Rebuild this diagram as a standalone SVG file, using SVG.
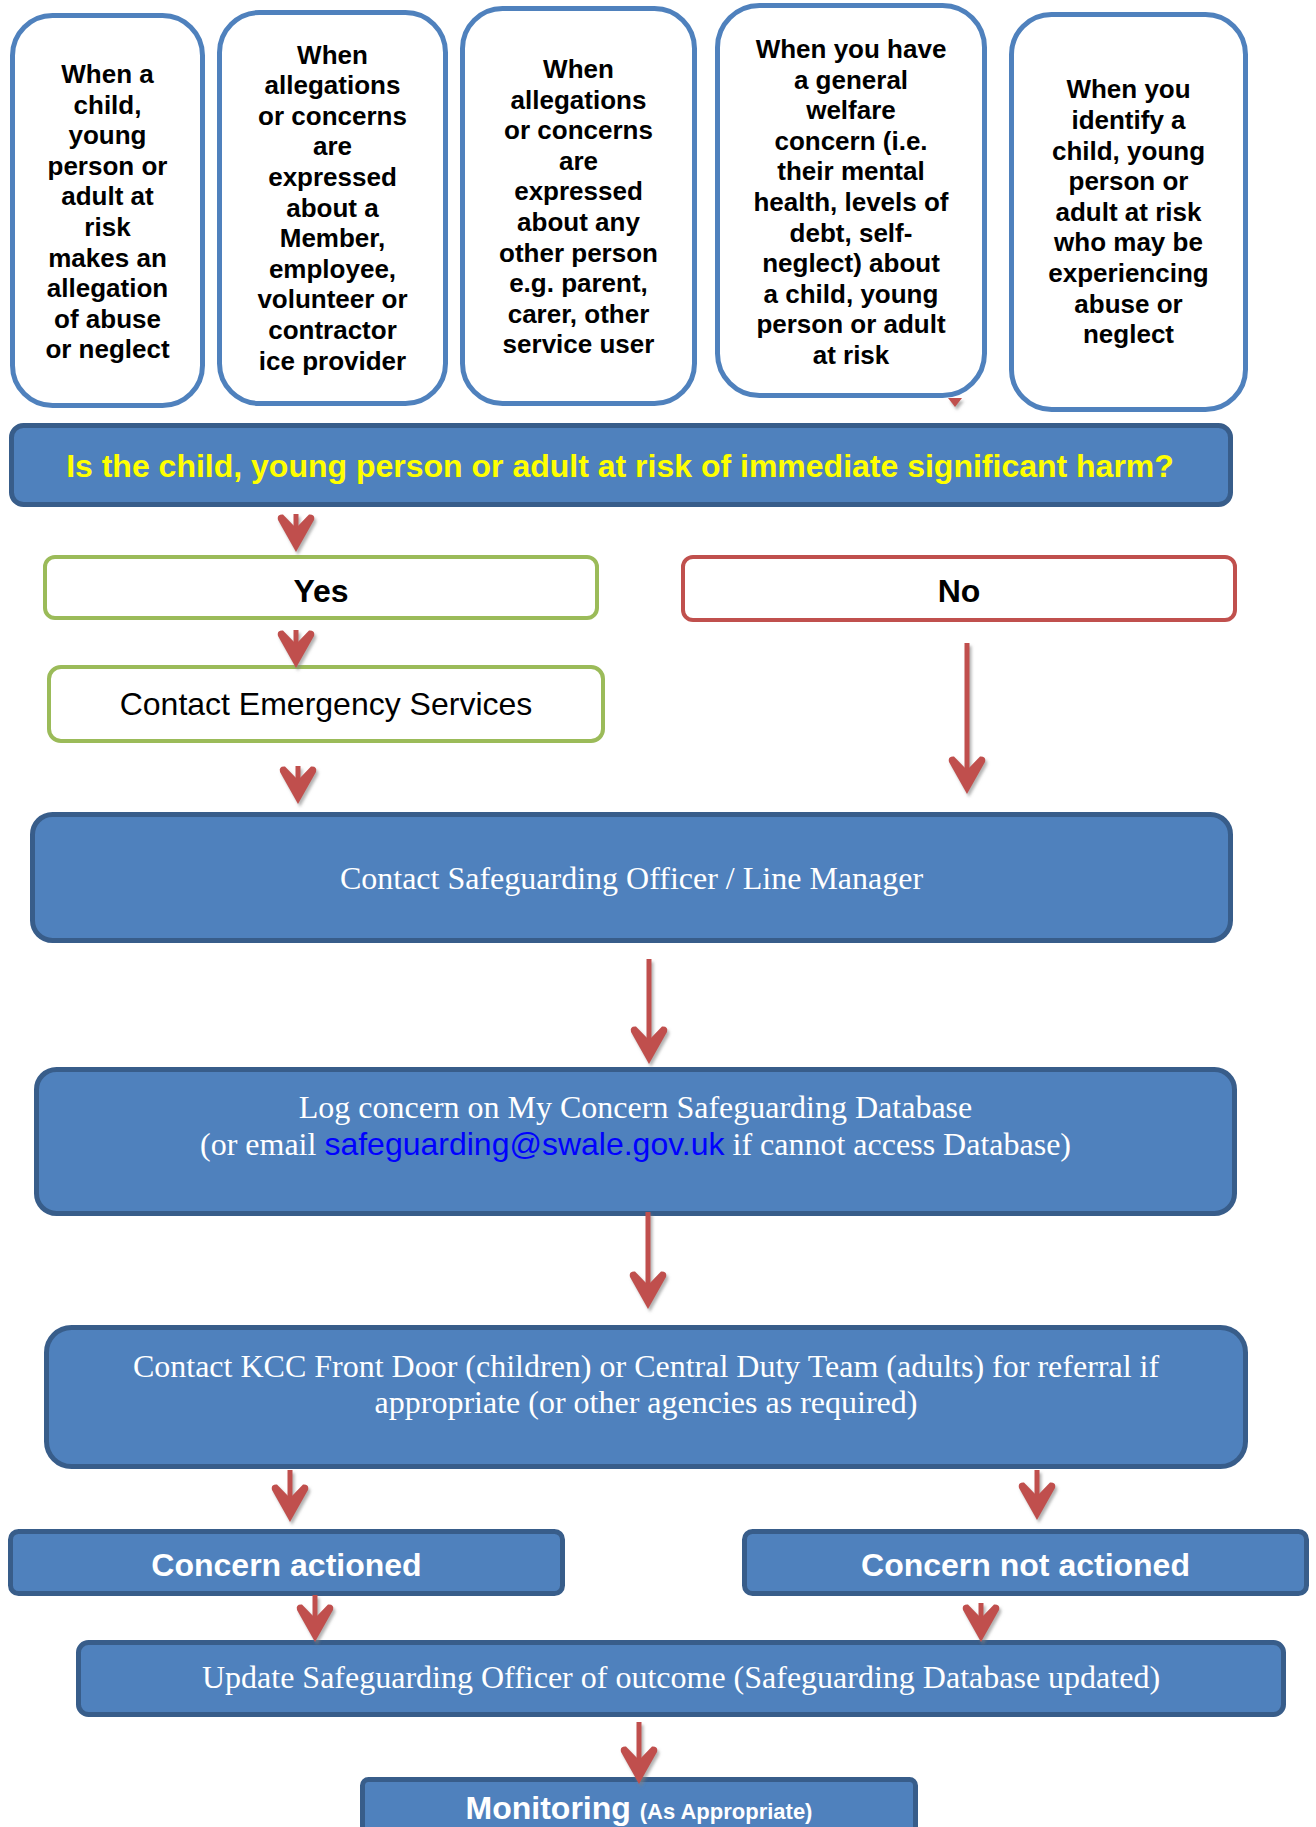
<svg xmlns="http://www.w3.org/2000/svg" xmlns:xlink="http://www.w3.org/1999/xlink" width="1316" height="1827" viewBox="0 0 1316 1827">
  <style>
    .start { fill: #ffffff; stroke: #4F81BD; stroke-width: 5; }
    .step { fill: #4F81BD; stroke: #385D8A; stroke-width: 5; }
    .yes { fill: #ffffff; stroke: #9BBB59; stroke-width: 4; }
    .no { fill: #ffffff; stroke: #C0504D; stroke-width: 4; }
    .lead { font-family: "Liberation Sans", Arial, sans-serif; font-weight: bold; font-size: 26px; fill: #000000; text-anchor: middle; }
    .sans { font-family: "Liberation Sans", Arial, sans-serif; font-size: 32px; text-anchor: middle; }
    .bold { font-weight: bold; }
    .serif { font-family: "Liberation Serif", "Times New Roman", serif; font-size: 32px; fill: #ffffff; text-anchor: middle; }
    .mail { font-family: "Liberation Sans", Arial, sans-serif; fill: #0000FF; }
    .stem { stroke: #C0504D; stroke-width: 5; fill: none; }
    .head { fill: #C0504D; }
  </style>
  <defs>
    <filter id="shade" x="-50%" y="-50%" width="200%" height="200%">
      <feDropShadow dx="2" dy="3" stdDeviation="1.5" flood-color="#808080" flood-opacity="0.6"/>
    </filter>
    <!-- arrowhead, tip at the origin, pointing down -->
    <path id="tip" class="head" d="M0,0 L-18,-32 Q-19.5,-38 -13,-37.5 L0,-24 L13,-37.5 Q19.5,-38 18,-32 Z"/>
  </defs>

  <rect width="1316" height="1827" fill="#ffffff"/>

  <!-- starting situations (tspans are kept back to back so no stray spaces join the lines) -->
  <g id="start-allegation">
    <rect class="start" x="12.5" y="15.5" width="190" height="390" rx="40"/>
    <text class="lead"><tspan x="107.5" y="83">When a</tspan
      ><tspan x="107.5" y="113.6">child,</tspan
      ><tspan x="107.5" y="144.2">young</tspan
      ><tspan x="107.5" y="174.8">person or</tspan
      ><tspan x="107.5" y="205.4">adult at</tspan
      ><tspan x="107.5" y="236">risk</tspan
      ><tspan x="107.5" y="266.6">makes an</tspan
      ><tspan x="107.5" y="297.2">allegation</tspan
      ><tspan x="107.5" y="327.8">of abuse</tspan
      ><tspan x="107.5" y="358.4">or neglect</tspan></text>
  </g>

  <g id="start-member">
    <rect class="start" x="219.5" y="12.5" width="226" height="391" rx="40"/>
    <text class="lead"><tspan x="332.5" y="63.5">When</tspan
      ><tspan x="332.5" y="94.1">allegations</tspan
      ><tspan x="332.5" y="124.7">or concerns</tspan
      ><tspan x="332.5" y="155.3">are</tspan
      ><tspan x="332.5" y="185.9">expressed</tspan
      ><tspan x="332.5" y="216.5">about a</tspan
      ><tspan x="332.5" y="247.1">Member,</tspan
      ><tspan x="332.5" y="277.7">employee,</tspan
      ><tspan x="332.5" y="308.3">volunteer or</tspan
      ><tspan x="332.5" y="338.9">contractor</tspan
      ><tspan x="332.5" y="369.5">ice provider</tspan></text>
  </g>

  <g id="start-other-person">
    <rect class="start" x="462.5" y="8.5" width="232" height="395" rx="40"/>
    <text class="lead"><tspan x="578.5" y="78">When</tspan
      ><tspan x="578.5" y="108.6">allegations</tspan
      ><tspan x="578.5" y="139.2">or concerns</tspan
      ><tspan x="578.5" y="169.8">are</tspan
      ><tspan x="578.5" y="200.4">expressed</tspan
      ><tspan x="578.5" y="231">about any</tspan
      ><tspan x="578.5" y="261.6">other person</tspan
      ><tspan x="578.5" y="292.2">e.g. parent,</tspan
      ><tspan x="578.5" y="322.8">carer, other</tspan
      ><tspan x="578.5" y="353.4">service user</tspan></text>
  </g>

  <g id="start-welfare">
    <rect class="start" x="717.5" y="5.5" width="267" height="390" rx="42"/>
    <text class="lead"><tspan x="851" y="58">When you have</tspan
      ><tspan x="851" y="88.6">a general</tspan
      ><tspan x="851" y="119.2">welfare</tspan
      ><tspan x="851" y="149.8">concern (i.e.</tspan
      ><tspan x="851" y="180.4">their mental</tspan
      ><tspan x="851" y="211">health, levels of</tspan
      ><tspan x="851" y="241.6">debt, self-</tspan
      ><tspan x="851" y="272.2">neglect) about</tspan
      ><tspan x="851" y="302.8">a child, young</tspan
      ><tspan x="851" y="333.4">person or adult</tspan
      ><tspan x="851" y="364">at risk</tspan></text>
  </g>

  <g id="start-identify">
    <rect class="start" x="1011.5" y="14.5" width="234" height="395" rx="40"/>
    <text class="lead"><tspan x="1128.5" y="98.3">When you</tspan
      ><tspan x="1128.5" y="128.9">identify a</tspan
      ><tspan x="1128.5" y="159.5">child, young</tspan
      ><tspan x="1128.5" y="190.1">person or</tspan
      ><tspan x="1128.5" y="220.7">adult at risk</tspan
      ><tspan x="1128.5" y="251.3">who may be</tspan
      ><tspan x="1128.5" y="281.9">experiencing</tspan
      ><tspan x="1128.5" y="312.5">abuse or</tspan
      ><tspan x="1128.5" y="343.1">neglect</tspan></text>
  </g>

  <!-- decision -->
  <g id="question">
    <rect class="step" x="11.5" y="425.5" width="1219" height="79" rx="12"/>
    <text class="sans bold" x="620" y="477" fill="#FFFF00">Is the child, young person or adult at risk of immediate significant harm?</text>
  </g>

  <g id="answer-yes">
    <rect class="yes" x="45" y="557" width="552" height="61" rx="10"/>
    <text class="sans bold" x="321" y="601.5" fill="#000000">Yes</text>
  </g>

  <g id="answer-no">
    <rect class="no" x="683" y="557" width="552" height="63" rx="10"/>
    <text class="sans bold" x="959" y="602" fill="#000000">No</text>
  </g>

  <g id="emergency">
    <rect class="yes" x="49" y="667" width="554" height="74" rx="12"/>
    <text class="sans" x="326" y="715" fill="#000000">Contact Emergency Services</text>
  </g>

  <!-- reporting steps -->
  <g id="safeguarding-officer">
    <rect class="step" x="32.5" y="814.5" width="1198" height="126" rx="20"/>
    <text class="serif" x="631.5" y="889">Contact Safeguarding Officer / Line Manager</text>
  </g>

  <g id="log-concern">
    <rect class="step" x="36.5" y="1069.5" width="1198" height="144" rx="20"/>
    <text class="serif" x="635.5" y="1118">Log concern on My Concern Safeguarding Database</text>
    <text class="serif" x="635.5" y="1155">(or email <tspan class="mail">safeguarding@swale.gov.uk</tspan> if cannot access Database)</text>
  </g>

  <g id="referral">
    <rect class="step" x="46.5" y="1327.5" width="1199" height="139" rx="25"/>
    <text class="serif" x="646" y="1377">Contact KCC Front Door (children) or Central Duty Team (adults) for referral if</text>
    <text class="serif" x="646" y="1413">appropriate (or other agencies as required)</text>
  </g>

  <g id="concern-actioned">
    <rect class="step" x="10.5" y="1531.5" width="552" height="62" rx="8"/>
    <text class="sans bold" x="286.5" y="1576" fill="#ffffff">Concern actioned</text>
  </g>

  <g id="concern-not-actioned">
    <rect class="step" x="744.5" y="1531.5" width="562" height="62" rx="8"/>
    <text class="sans bold" x="1025.5" y="1576" fill="#ffffff">Concern not actioned</text>
  </g>

  <g id="update-officer">
    <rect class="step" x="78.5" y="1642.5" width="1205" height="72" rx="10"/>
    <text class="serif" x="681" y="1688">Update Safeguarding Officer of outcome (Safeguarding Database updated)</text>
  </g>

  <g id="monitoring">
    <rect class="step" x="362.5" y="1779.5" width="553" height="80" rx="6"/>
    <text class="sans bold" x="639" y="1819" fill="#ffffff">Monitoring <tspan font-size="22">(As Appropriate)</tspan></text>
  </g>

  <!-- connectors -->
  <g id="connectors" filter="url(#shade)">
    <path class="head" d="M948,398 L962,398 L955,407 Z"/>

    <line class="stem" x1="296" y1="514" x2="296" y2="532"/>
    <use xlink:href="#tip" x="296" y="552"/>

    <line class="stem" x1="296" y1="630" x2="296" y2="648"/>
    <use xlink:href="#tip" x="296" y="668"/>

    <line class="stem" x1="298" y1="766" x2="298" y2="784"/>
    <use xlink:href="#tip" x="298" y="804"/>

    <line class="stem" x1="967" y1="643" x2="967" y2="780"/>
    <use xlink:href="#tip" x="967" y="794"/>

    <line class="stem" x1="649" y1="959" x2="649" y2="1050"/>
    <use xlink:href="#tip" x="649" y="1064"/>

    <line class="stem" x1="648" y1="1212" x2="648" y2="1295"/>
    <use xlink:href="#tip" x="648" y="1309"/>

    <line class="stem" x1="290" y1="1470" x2="290" y2="1508"/>
    <use xlink:href="#tip" x="290" y="1522"/>

    <line class="stem" x1="1037" y1="1470" x2="1037" y2="1506"/>
    <use xlink:href="#tip" x="1037" y="1520"/>

    <line class="stem" x1="315" y1="1595" x2="315" y2="1628"/>
    <use xlink:href="#tip" x="315" y="1642"/>

    <line class="stem" x1="981" y1="1603" x2="981" y2="1622"/>
    <use xlink:href="#tip" x="981" y="1642"/>

    <line class="stem" x1="639" y1="1722" x2="639" y2="1770"/>
    <use xlink:href="#tip" x="639" y="1784"/>
  </g>
</svg>
